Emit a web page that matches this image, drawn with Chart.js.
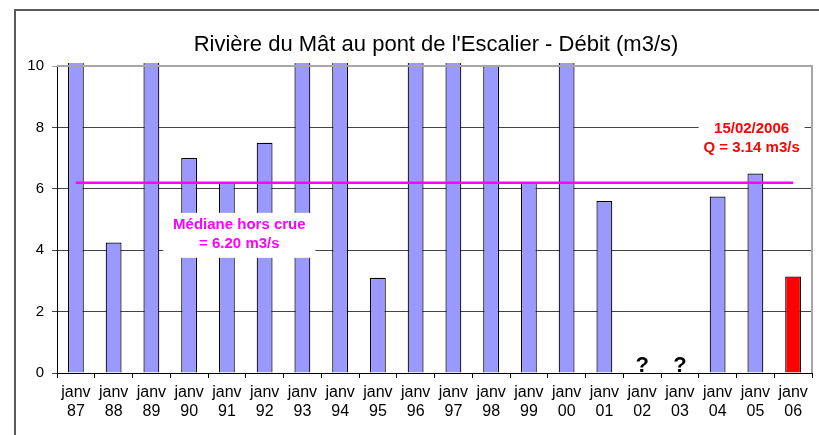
<!DOCTYPE html>
<html>
<head>
<meta charset="utf-8">
<script src="https://cdn.jsdelivr.net/npm/chart.js@4/dist/chart.umd.min.js"></script>
<style>
html,body{margin:0;padding:0;background:#fff;}
#wrap{width:819px;height:435px;position:relative;}
</style>
</head>
<body>
<div id="wrap"><canvas id="c" width="819" height="435"></canvas></div>
<script>
// ---- data ----
const YEARS = ['87','88','89','90','91','92','93','94','95','96','97','98','99','00','01','02','03','04','05','06'];
const MONTH = 'janv';
// values above 10 are clipped at the top of the chart (bars run off the scale)
const DEBIT = [12, 4.25, 12, 7.0, 6.2, 7.5, 12, 12, 3.1, 12, 12, 10.0, 6.2, 12, 5.6, null, null, 5.75, 6.5, 3.14];
const MISSING = ['02','03'];
const MEDIAN = 6.2;
const Y_TICKS = [0, 2, 4, 6, 8, 10];
const TITLE = "Rivière du Mât au pont de l'Escalier - Débit (m3/s)";
const MEDIAN_LABEL = ['Médiane hors crue', '= 6.20 m3/s'];
const LAST_LABEL = ['15/02/2006', 'Q = 3.14 m3/s'];

const SANS = "'Liberation Sans', Arial, sans-serif";

const labels = YEARS.map(y => [MONTH, y]);
const barColors = YEARS.map((y, i) => i === YEARS.length - 1 ? '#ff0000' : '#9999ff');

const decor = {
  id: 'decor',
  beforeDraw(chart) {
    const ctx = chart.ctx;
    ctx.save();
    ctx.fillStyle = '#fff';
    ctx.fillRect(0, 0, chart.width, chart.height);
    // outer frame
    ctx.strokeStyle = '#5a5a5a';
    ctx.lineWidth = 2;
    ctx.beginPath();
    ctx.moveTo(15, chart.height + 5);
    ctx.lineTo(15, 10);
    ctx.lineTo(chart.width + 5, 10);
    ctx.stroke();
    // title
    ctx.fillStyle = '#000';
    ctx.font = "22px " + SANS;
    ctx.textAlign = 'center';
    ctx.textBaseline = 'middle';
    ctx.fillText(TITLE, 436, 45);
    ctx.restore();
  },
  afterDatasetsDraw(chart) {
    const ctx = chart.ctx;
    const x = chart.scales.x, y = chart.scales.y;
    const a = chart.chartArea;
    ctx.save();
    // plot border top/right
    ctx.strokeStyle = '#a6a6a6';
    ctx.lineWidth = 2;
    ctx.beginPath();
    ctx.moveTo(a.left, a.top);
    ctx.lineTo(a.right, a.top);
    ctx.lineTo(a.right, a.bottom);
    ctx.stroke();

    // median annotation
    ctx.font = "bold 15px " + SANS;
    ctx.textAlign = 'center';
    ctx.textBaseline = 'middle';
    let cx = x.getPixelForValue(4.33), cy = y.getPixelForValue(4.5);
    ctx.fillStyle = '#fff';
    ctx.fillRect(cx - 76, cy - 22, 152, 45);
    ctx.fillStyle = '#ff00ff';
    ctx.fillText(MEDIAN_LABEL[0], cx, cy - 10);
    ctx.fillText(MEDIAN_LABEL[1], cx, cy + 9);

    // last value annotation
    cx = x.getPixelForValue(17.9); cy = y.getPixelForValue(7.67);
    ctx.fillStyle = '#fff';
    ctx.fillRect(cx - 53, cy - 20, 106, 40);
    ctx.fillStyle = '#ff0000';
    ctx.fillText(LAST_LABEL[0], cx, cy - 9);
    ctx.fillText(LAST_LABEL[1], cx, cy + 10);

    // question marks for missing years
    ctx.fillStyle = '#000';
    ctx.font = "bold 22px " + SANS;
    ctx.textBaseline = 'alphabetic';
    MISSING.forEach(m => {
      const i = YEARS.indexOf(m);
      ctx.fillText('?', x.getPixelForValue(i), y.getPixelForValue(0) - 1);
    });
    ctx.restore();
  }
};

new Chart(document.getElementById('c'), {
  type: 'bar',
  data: {
    labels: labels,
    datasets: [
      {
        type: 'line',
        data: YEARS.map(() => MEDIAN),
        borderColor: '#ff00ff',
        borderWidth: 2.5,
        pointRadius: 0,
        fill: false,
        order: 0
      },
      {
        type: 'bar',
        data: DEBIT,
        backgroundColor: barColors,
        borderColor: '#000',
        borderWidth: 1.2,
        barPercentage: 0.42,
        categoryPercentage: 1,
        clip: {left: 0, right: 0, top: 3, bottom: 0},
        order: 1
      }
    ]
  },
  options: {
    responsive: false,
    animation: false,
    layout: {padding: {left: 0, right: 7, top: 66, bottom: 0}},
    plugins: {legend: {display: false}, tooltip: {enabled: false}, title: {display: false}},
    scales: {
      x: {
        offset: true,
        grid: {offset: true, drawOnChartArea: false, drawTicks: true, tickLength: 5, color: '#000'},
        border: {display: true, color: '#000', width: 1},
        ticks: {color: '#000', font: {family: SANS, size: 16, lineHeight: 1.2}, padding: 5, maxRotation: 0, autoSkip: false},
        afterFit(s) { s.height = 62; }
      },
      y: {
        min: 0, max: 10,
        afterBuildTicks(s) { s.ticks = Y_TICKS.map(v => ({value: v})); },
        grid: {
          color: c => (c.tick && c.tick.value === 10) ? '#a6a6a6' : '#444',
          lineWidth: 1, tickLength: 5, drawTicks: true
        },
        border: {display: true, color: '#000', width: 1},
        ticks: {color: '#000', font: {family: SANS, size: 15}, padding: 8},
        afterFit(s) { s.width = 57; }
      }
    }
  },
  plugins: [decor]
});
</script>
</body>
</html>
